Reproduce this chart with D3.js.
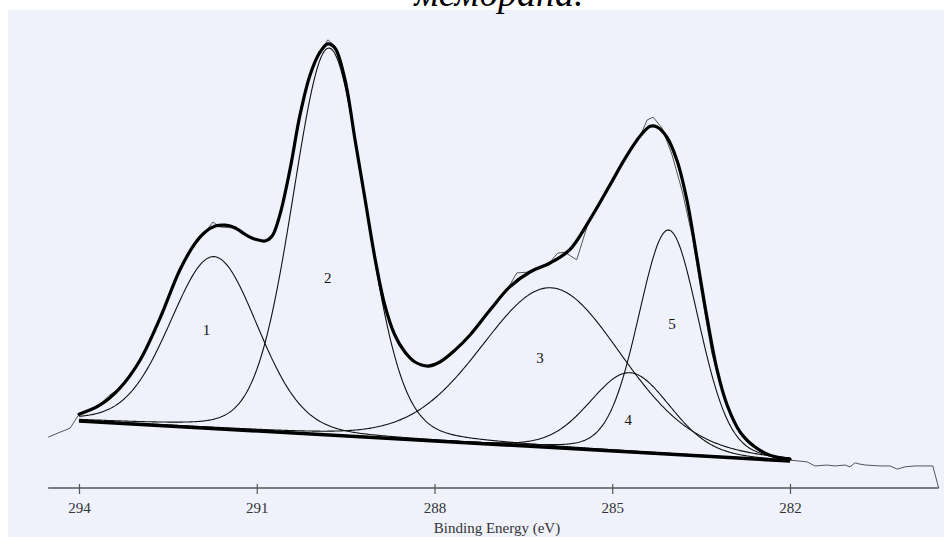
<!DOCTYPE html>
<html>
<head>
<meta charset="utf-8">
<script src="https://cdn.jsdelivr.net/npm/d3@7"></script>
<style>
  html, body { margin: 0; padding: 0; background: #ffffff; }
  svg { display: block; }
</style>
</head>
<body>
<svg id="chart" width="944" height="537"></svg>
<script>
// C 1s spectrum: measured counts, fit envelope, linear background and five fitted components
const tickValues = [294, 291, 288, 285, 282];

// measured spectrum (binding energy, eV / intensity, a.u.)
const rawEnergy = [294.52, 294.32, 294.15, 294.02, 293.65, 293.50, 293.31, 292.97, 292.63, 292.30, 292.04, 291.87, 291.74, 291.62, 291.42, 291.20, 291.03, 290.86, 290.74, 290.61, 290.44, 290.27, 290.10, 289.93, 289.80, 289.68, 289.51, 289.34, 289.17, 289.00, 288.84, 288.67, 288.50, 288.33, 288.11, 287.91, 287.65, 287.40, 287.06, 286.73, 286.61, 286.39, 286.05, 285.92, 285.80, 285.60, 285.38, 285.04, 284.78, 284.53, 284.41, 284.31, 284.16, 283.99, 283.82, 283.65, 283.49, 283.32, 283.10, 282.84, 282.59, 282.34, 282.00, 281.71, 281.58, 281.38, 281.24, 281.07, 280.99, 280.90, 280.82, 280.72, 280.48, 280.31, 280.19, 280.06, 279.89, 279.72, 279.59, 279.49];
const rawCounts = [113, 124, 133, 160, 184, 205, 222, 284, 378, 484, 544, 569, 591, 580, 578, 564, 553, 549, 560, 607, 707, 829, 918, 969, 996, 982, 907, 773, 640, 507, 407, 340, 302, 280, 271, 280, 307, 340, 396, 451, 478, 480, 502, 522, 524, 507, 600, 673, 733, 782, 818, 824, 800, 740, 660, 560, 430, 300, 196, 124, 91, 73, 62, 58, 49, 51, 49, 51, 47, 56, 53, 51, 49, 49, 42, 47, 49, 49, 49, 0];

// fit envelope (sum curve)
const fitEnergy = [294.00, 293.65, 293.31, 292.97, 292.63, 292.30, 292.04, 291.87, 291.70, 291.53, 291.36, 291.20, 291.03, 290.86, 290.74, 290.61, 290.44, 290.27, 290.10, 289.93, 289.80, 289.68, 289.51, 289.34, 289.17, 289.00, 288.84, 288.67, 288.50, 288.33, 288.11, 287.91, 287.65, 287.40, 287.06, 286.73, 286.39, 286.05, 285.72, 285.38, 285.04, 284.78, 284.53, 284.36, 284.24, 284.08, 283.91, 283.74, 283.57, 283.40, 283.23, 283.06, 282.84, 282.59, 282.34, 282.00];
const fitCounts = [164, 184, 222, 284, 378, 484, 544, 569, 582, 584, 578, 564, 553, 549, 560, 607, 707, 829, 918, 969, 987, 978, 907, 773, 640, 507, 407, 340, 302, 280, 271, 280, 307, 340, 396, 447, 480, 500, 529, 596, 673, 733, 782, 804, 802, 780, 729, 640, 511, 378, 262, 184, 124, 91, 73, 64];

// linear background end points
const bgEnergy = [294, 282];
const bgCounts = [149, 60];

// fitted Gaussian–Lorentzian components
const peakNames   = ["1", "2", "3", "4", "5"];
const peakCenter  = [291.72, 289.78, 286.03, 284.70, 284.05];
const peakHeight  = [382, 860, 355, 176, 498];
const peakFwhm    = [1.75, 1.45, 2.8, 1.6, 1.2];
const lorentzMix  = 0.15;

// label anchor for each component (energy, intensity)
const labelEnergy = [291.85, 289.8, 286.22, 284.73, 283.99];
const labelCounts = [340, 456, 278, 140, 353];

const svg = d3.select("#chart");
const W = 944, H = 537;
const serif = "'Liberation Serif', 'Times New Roman', serif";

svg.append("rect").attr("x", 8).attr("y", 10).attr("width", W - 8).attr("height", H - 10)
  .attr("fill", "#eff2fb");

svg.append("text").attr("x", 499).attr("y", 6)
  .attr("text-anchor", "middle")
  .attr("font-family", serif)
  .attr("font-style", "italic").attr("font-size", 38).attr("fill", "#000")
  .text("мембрана.");

const x = d3.scaleLinear().domain([294, 282]).range([79, 790]);
const y = d3.scaleLinear().domain([0, 1000]).range([488, 38]);

const bg = d3.scaleLinear().domain(bgEnergy).range(bgCounts);
function gl(e, i) {
  const h = peakFwhm[i] / 2, d = (e - peakCenter[i]) / h;
  return peakHeight[i] * ((1 - lorentzMix) * Math.exp(-Math.LN2 * d * d) + lorentzMix / (1 + d * d));
}
const grid = d3.range(294, 281.999, -0.02);

const line = d3.line().x(d => x(d[0])).y(d => y(d[1])).curve(d3.curveLinear);
const smooth = d3.line().x(d => x(d[0])).y(d => y(d[1])).curve(d3.curveCatmullRom.alpha(0.5));

// axis
const axisG = svg.append("g").attr("transform", "translate(0,488)")
  .call(d3.axisBottom(x).tickValues(tickValues).tickSizeOuter(0).tickFormat(d3.format("d")));
axisG.select(".domain").remove();
axisG.selectAll(".tick line").attr("y1", -4).attr("y2", 6).attr("stroke", "#555").attr("stroke-width", 1.2);
axisG.selectAll(".tick text").attr("y", 14)
  .attr("font-family", serif)
  .attr("font-size", 15).attr("fill", "#333");
svg.append("line")
  .attr("x1", x(rawEnergy[0])).attr("x2", x(rawEnergy[rawEnergy.length - 1]))
  .attr("y1", y(0)).attr("y2", y(0))
  .attr("stroke", "#555").attr("stroke-width", 1.6);

svg.append("text").attr("x", 497).attr("y", 533).attr("text-anchor", "middle")
  .attr("font-family", serif)
  .attr("font-size", 15).attr("fill", "#333")
  .text("Binding Energy (eV)");

// measured spectrum
svg.append("path").datum(rawEnergy.map((e, i) => [e, rawCounts[i]]))
  .attr("d", line).attr("fill", "none").attr("stroke", "#555").attr("stroke-width", 1);

// components
peakNames.forEach((n, i) => {
  svg.append("path").datum(grid.map(e => [e, bg(e) + gl(e, i)]))
    .attr("d", line).attr("fill", "none").attr("stroke", "#111").attr("stroke-width", 1.1);
});

// background
svg.append("path").datum(bgEnergy.map((e, i) => [e, bgCounts[i]]))
  .attr("d", line).attr("fill", "none").attr("stroke", "#000").attr("stroke-width", 3.5);

// envelope
svg.append("path").datum(fitEnergy.map((e, i) => [e, fitCounts[i]]))
  .attr("d", smooth).attr("fill", "none").attr("stroke", "#000").attr("stroke-width", 3.2)
  .attr("stroke-linejoin", "round").attr("stroke-linecap", "round");

svg.selectAll(".plabel").data(peakNames).join("text")
  .attr("x", (d, i) => x(labelEnergy[i])).attr("y", (d, i) => y(labelCounts[i]))
  .attr("text-anchor", "middle")
  .attr("font-family", serif)
  .attr("font-size", 15).attr("fill", "#111")
  .text(d => d);
</script>
</body>
</html>
